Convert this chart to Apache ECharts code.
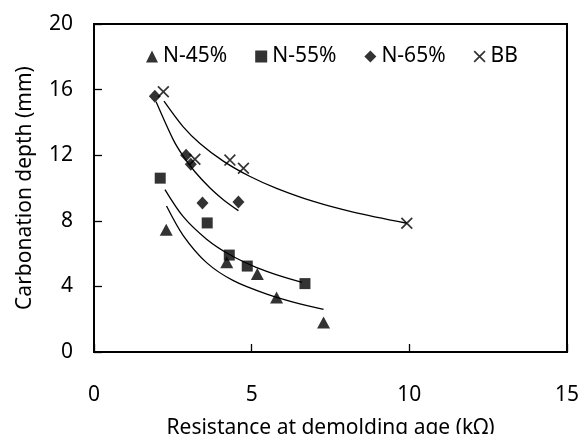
<!DOCTYPE html>
<html>
<head>
<meta charset="utf-8">
<script src="https://cdn.jsdelivr.net/npm/echarts@6/dist/echarts.min.js"></script>
<style>html,body{margin:0;padding:0;background:#fff;}#c{width:584px;height:434px;}</style>
</head>
<body>
<div id="c"></div>
<script>
// Measured points (x: resistance kΩ, y: carbonation depth mm)
var n45X = [2.29, 4.21, 5.18, 5.79, 7.28];
var n45Y = [7.46, 5.47, 4.76, 3.32, 1.80];
var n55X = [2.10, 3.59, 4.29, 4.86, 6.69];
var n55Y = [10.6, 7.87, 5.91, 5.24, 4.17];
var n65X = [1.93, 2.92, 3.07, 3.44, 4.58];
var n65Y = [15.6, 12.0, 11.45, 9.08, 9.14];
var bbX = [2.20, 3.20, 4.31, 4.74, 9.92];
var bbY = [15.87, 11.75, 11.7, 11.2, 7.85];

// Trend curves
var t45X = [2.30, 2.83, 3.57, 4.42, 5.48, 6.53, 7.28];
var t45Y = [8.90, 7.10, 5.45, 4.35, 3.53, 2.93, 2.60];
var t55X = [2.25, 2.83, 3.57, 4.31, 5.16, 6.00, 6.60];
var t55Y = [9.90, 8.25, 6.88, 5.93, 5.15, 4.58, 4.25];
var t65X = [1.97, 2.52, 2.83, 3.20, 3.68, 4.10, 4.58];
var t65Y = [15.26, 12.92, 11.94, 10.99, 10.0, 9.29, 8.62];
var tbbX = [2.22, 2.83, 3.36, 4.10, 4.95, 5.79, 6.96, 8.22, 9.92];
var tbbY = [15.3, 13.73, 12.72, 11.64, 10.70, 9.98, 9.18, 8.53, 7.85];

var xTicks = [0, 5, 10, 15];
var yTicks = [0, 4, 8, 12, 16, 20];
var names = ['N-45%', 'N-55%', 'N-65%', 'BB'];

function pairs(xs, ys) { return xs.map(function (x, i) { return [x, ys[i]]; }); }

var FONT = 'Noto Sans';
var crossPath = 'path://M0,1L1,0L10,9L9,10ZM9,0L10,1L1,10L0,9Z';

function scatter(name, xs, ys, symbol, size) {
  return {
    name: name, type: 'scatter', data: pairs(xs, ys),
    symbol: symbol, symbolSize: size,
    itemStyle: { color: '#000' }, z: 5
  };
}
function trend(xs, ys) {
  return {
    type: 'line', data: pairs(xs, ys), showSymbol: false, symbol: 'none',
    smooth: 0.3,
    lineStyle: { color: '#000', width: 1.3 }, silent: true, z: 3
  };
}

var chart = echarts.init(document.getElementById('c'), null, { renderer: 'canvas' });
chart.setOption({
  backgroundColor: '#fff',
  animation: false,
  textStyle: { fontFamily: FONT },
  grid: { left: 94, right: 17, top: 24, bottom: 82, show: true, borderColor: '#000', borderWidth: 2,
          containLabel: false, outerBoundsMode: 'none' },
  legend: {
    data: names, left: 141, top: 41, itemGap: 28, itemWidth: 12, itemHeight: 12,
    textStyle: { fontFamily: FONT, fontSize: 21, color: '#000' }
  },
  xAxis: {
    type: 'value', min: xTicks[0], max: xTicks[xTicks.length - 1], interval: 5,
    name: 'Resistance at demolding age (kΩ)', nameLocation: 'middle', nameGap: 66,
    nameTextStyle: { fontFamily: FONT, fontSize: 21, color: '#000' },
    axisLine: { show: true, lineStyle: { color: '#000', width: 2 } },
    axisTick: { show: true, inside: true, length: 8, lineStyle: { color: '#000', width: 1.3 } },
    axisLabel: { margin: 33, fontFamily: FONT, fontSize: 21, color: '#000' },
    splitLine: { show: false }
  },
  yAxis: {
    type: 'value', min: yTicks[0], max: yTicks[yTicks.length - 1], interval: 4,
    name: 'Carbonation depth (mm)', nameLocation: 'middle', nameGap: 58,
    nameTextStyle: { fontFamily: FONT, fontSize: 21, color: '#000' },
    axisLine: { show: true, lineStyle: { color: '#000', width: 2 } },
    axisTick: { show: true, inside: true, length: 8, lineStyle: { color: '#000', width: 1.3 } },
    axisLabel: { margin: 21, fontFamily: FONT, fontSize: 21, color: '#000' },
    splitLine: { show: false }
  },
  series: [
    trend(t45X, t45Y), trend(t55X, t55Y), trend(t65X, t65Y), trend(tbbX, tbbY),
    scatter(names[0], n45X, n45Y, 'triangle', [13, 12]),
    scatter(names[1], n55X, n55Y, 'rect', 11),
    scatter(names[2], n65X, n65Y, 'diamond', [12, 13]),
    scatter(names[3], bbX, bbY, crossPath, 12)
  ]
});
</script>
</body>
</html>
